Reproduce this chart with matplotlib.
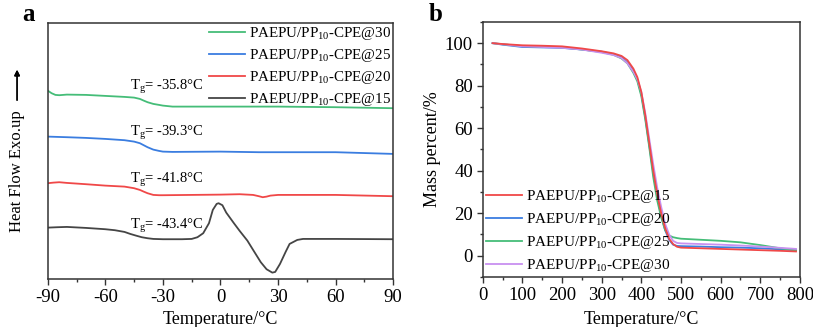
import matplotlib
matplotlib.use("Agg")
import matplotlib.pyplot as plt
from matplotlib.ticker import MultipleLocator

plt.rcParams['font.family'] = ['Liberation Serif', 'DejaVu Serif']
plt.rcParams['mathtext.fontset'] = 'custom'
plt.rcParams['mathtext.rm'] = 'Liberation Serif'
plt.rcParams['mathtext.it'] = 'Liberation Serif:italic'
plt.rcParams['axes.unicode_minus'] = False

# ---- panel a: DSC curves (arbitrary heat-flow units, offset per sample) ----
t_30 = [-90, -88, -86, -84, -80, -70, -60, -50, -45, -42, -40, -38, -35, -32, -30, -27, -25, -20, 0, 30, 60, 90]
hf_30 = [188.3, 185.7, 184, 183.7, 184.3, 184, 183, 182, 181.3, 180, 178.3, 176.7, 175, 174, 173.3, 172.7,
         172.3, 172.3, 172.3, 172.3, 171.7, 170.7]

t_25 = [-90, -80, -70, -60, -50, -45, -42, -40, -38, -35, -32, -30, -25, 0, 20, 30, 60, 90]
hf_25 = [142.3, 141.7, 141, 140, 138.7, 137.3, 135.7, 133.7, 131.7, 129.3, 128, 127.3, 127, 127.3, 126.7,
         126.7, 126.7, 125]

t_20 = [-90, -87, -84, -80, -70, -60, -50, -45, -42, -40, -38, -35, -32, -30, 0, 10, 17, 20, 22, 24, 26, 30, 60, 90]
hf_20 = [95.7, 96.3, 96.7, 96, 94.7, 93.3, 92.3, 90.7, 89, 87.3, 85.7, 84, 83.7, 83.7, 84.3, 84.7, 84, 82.7,
         81.7, 82.3, 83.3, 84, 84, 82.7]

t_15 = [-90, -85, -80, -70, -60, -55, -50, -47, -44, -41, -38, -35, -30, -20, -15, -12, -9, -6, -4, -2, -1,
        1, 3, 7, 10, 14, 17, 21, 24, 27, 28.5, 31, 34, 36, 40, 43, 60, 90]
hf_15 = [51.3, 51.7, 52, 51, 49.7, 48.7, 47, 45, 43.3, 41.7, 40.7, 40, 39.7, 39.7, 40, 41.7, 45.7, 55.7, 69,
         75, 75.7, 73.7, 66.3, 55.7, 48, 38.3, 29, 16.7, 9.7, 6.3, 7, 15, 27.3, 35, 39, 40, 40, 39.7]

tg_values = ['-35.8', '-39.3', '-41.8', '-43.4']
tg_y = [192, 146, 99, 53]

# ---- panel b: TGA curves ----
t_tga = [25, 50, 100, 150, 200, 250, 300, 330, 350, 365, 380, 390, 400, 410, 420, 430, 440, 450, 460, 470,
         480, 490, 500, 550, 600, 650, 700, 750, 790]
m_15 = [100, 99.6, 99, 98.8, 98.5, 97.5, 96.2, 95.2, 94, 92, 88, 84, 77, 66, 53, 40, 29, 20, 13, 8, 5.5,
        4.2, 3.8, 3.5, 3.2, 2.9, 2.6, 2.3, 2.0]
m_20 = [100, 99.3, 98.2, 98, 97.8, 97, 96, 94.8, 93.3, 91, 87, 83, 76, 65, 52, 39, 28, 19, 12, 7.5, 5.2,
        4.6, 4.5, 4.3, 4, 3.8, 3.5, 3, 2.6]
m_25 = [100, 99.5, 98.6, 98.3, 98, 97, 95.8, 94.5, 92.8, 90.5, 86, 82, 75, 64, 51, 37, 26, 18, 12, 9.5, 8.7,
        8.3, 8, 7.5, 7, 6.3, 5, 3.5, 2.5]
m_30 = [100, 99.5, 98.5, 98.2, 97.8, 97, 95.5, 94.4, 93, 90.5, 86.5, 83, 77, 67, 55, 43, 32, 23, 15, 10, 7,
        6, 5.8, 5.5, 5.2, 4.8, 4.3, 3.7, 3.2]

c_green = '#45bd78'
c_blue = '#3a7de0'
c_red = '#f04848'
c_black = '#454545'
c_purple = '#c890f0'

name = 'PAEPU/PP$_{10}$-CPE@'

fig = plt.figure(figsize=(8.13, 3.27), dpi=100)
ax1 = fig.add_axes([0.0587, 0.147, 0.425, 0.783])
ax2 = fig.add_axes([0.5937, 0.153, 0.3903, 0.78])

for ax in (ax1, ax2):
    for sp in ax.spines.values():
        sp.set_color('#333333')
        sp.set_linewidth(1.1)
    ax.tick_params(which='major', direction='out', length=4, width=1, color='#333333', labelsize=13.5,
                   top=False, right=False, pad=3)
    ax.tick_params(which='minor', direction='out', length=2.5, width=1, color='#333333')

lw = 1.3
ax1.plot(t_30, hf_30, color=c_green, lw=lw, label=name + '30')
ax1.plot(t_25, hf_25, color=c_blue, lw=lw, label=name + '25')
ax1.plot(t_20, hf_20, color=c_red, lw=lw, label=name + '20')
ax1.plot(t_15, hf_15, color=c_black, lw=lw, label=name + '15')
for v, y in zip(tg_values, tg_y):
    ax1.text(-47, y, 'T$_\\mathrm{g}$= ' + v + '°C', fontsize=10.5, ha='left', va='center')

ax1.set_xlim(-90, 90)
ax1.set_ylim(0, 256)
ax1.set_yticks([])
ax1.xaxis.set_major_locator(MultipleLocator(30))
ax1.xaxis.set_minor_locator(MultipleLocator(15))
ax1.set_xlabel('Temperature/°C', fontsize=13, labelpad=4)
ax1.legend(loc='upper right', frameon=False, fontsize=10.8, handlelength=2.4, handletextpad=0.25,
           labelspacing=0.33, borderaxespad=0.0, borderpad=0.15)

fig.text(0.021, 0.477, 'Heat Flow Exo.up', rotation=90, fontsize=12, ha='center', va='center')
fig.add_artist(plt.annotate('', xy=(0.021, 0.795), xytext=(0.021, 0.685), xycoords='figure fraction',
                            arrowprops=dict(arrowstyle='-|>', color='black', lw=1, mutation_scale=8)))

ax2.plot(t_tga, m_20, color=c_blue, lw=lw, label=name + '20')
ax2.plot(t_tga, m_25, color=c_green, lw=lw, label=name + '25')
ax2.plot(t_tga, m_30, color=c_purple, lw=lw, label=name + '30')
ax2.plot(t_tga, m_15, color=c_red, lw=lw, label=name + '15')
ax2.set_xlim(0, 800)
ax2.set_ylim(-10, 110)
ax2.xaxis.set_major_locator(MultipleLocator(100))
ax2.xaxis.set_minor_locator(MultipleLocator(50))
ax2.yaxis.set_major_locator(MultipleLocator(20))
ax2.yaxis.set_minor_locator(MultipleLocator(10))
ax2.set_yticks([0, 20, 40, 60, 80, 100])
ax2.set_xlabel('Temperature/°C', fontsize=13, labelpad=5)
ax2.set_ylabel('Mass percent/%', fontsize=13, labelpad=3)
h, l = ax2.get_legend_handles_labels()
order = [3, 0, 1, 2]
ax2.legend([h[i] for i in order], [l[i] for i in order], loc='lower left', frameon=False, fontsize=11,
           handlelength=2.4, handletextpad=0.25, labelspacing=0.38, borderaxespad=0.1, borderpad=0.1)

fig.text(0.027, 0.955, 'a', fontsize=18, fontweight='bold', ha='left', va='center')
fig.text(0.527, 0.955, 'b', fontsize=18, fontweight='bold', ha='left', va='center')

fig.savefig('out.png', dpi=100)
